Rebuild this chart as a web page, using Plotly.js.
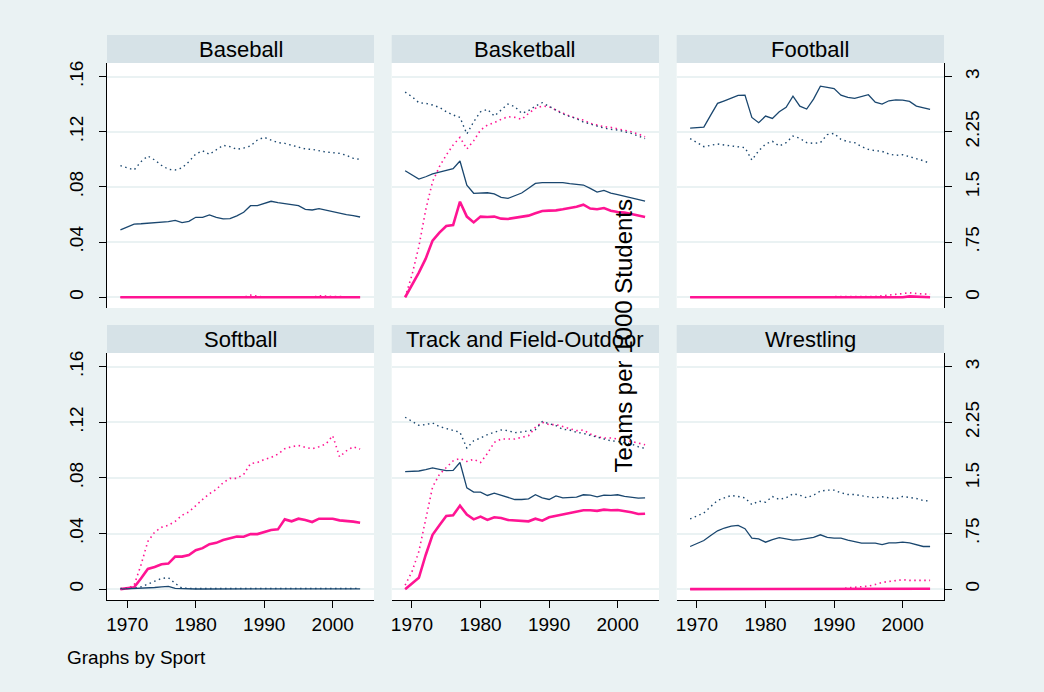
<!DOCTYPE html>
<html>
<head>
<meta charset="utf-8">
<script src="https://cdn.plot.ly/plotly-3.0.1.min.js"></script>
<style>html,body{margin:0;padding:0;background:#eaf2f3;}#chart{width:1044px;height:692px;}</style>
</head>
<body>
<div id="chart"></div>
<script>
// ---- DATA ----
const years = [1969,1970,1971,1972,1973,1974,1975,1976,1977,1978,1979,1980,1981,1982,1983,1984,1985,1986,1987,1988,1989,1990,1991,1992,1993,1994,1995,1996,1997,1998,1999,2000,2001,2002,2003,2004];
const sports = ["Baseball","Basketball","Football","Softball","Track and Field-Outdoor","Wrestling"];

// Men's teams per 1000 students (left axis, navy solid)
const baseballMenTeams = [.0488,.0510,.0531,.0533,.0536,.0541,.0543,.0548,.0558,.0541,.0550,.0580,.0580,.0597,.0580,.0568,.0570,.0590,.0616,.0664,.0664,.0679,.0696,.0686,.0679,.0671,.0664,.0638,.0633,.0642,.0630,.0618,.0609,.0599,.0592,.0582];
const basketballMenTeams = [.0918,.0888,.0857,.0874,.0894,.0908,.0920,.0932,.0988,.0812,.0754,.0758,.0758,.0749,.0725,.0717,.0734,.0756,.0790,.0826,.0831,.0831,.0831,.0831,.0824,.0821,.0814,.0790,.0763,.0775,.0756,.0744,.0732,.0722,.0710,.0698];
const footballMenTeams = [.1227,.1232,.1234,.1321,.1406,.1425,.1444,.1464,.1466,.1304,.1266,.1314,.1297,.1345,.1377,.1459,.1386,.1365,.1437,.1531,.1522,.1514,.1466,.1449,.1442,.1454,.1469,.1415,.1401,.1425,.1432,.1430,.1420,.1386,.1374,.1362];
const softballMenTeams = [0,.0002,.0002,.0003,.0005,.0012,.0017,.0020,.0005,.0002,.0001,.0001,.0001,.0001,.0001,.0002,.0002,.0002,.0002,.0002,.0002,.0002,.0002,.0001,.0002,.0002,.0002,.0002,.0002,.0001,.0002,.0002,.0002,.0002,.0002,.0002];
const trackMenTeams = [.0845,.0845,.0850,.0860,.0872,.0862,.0853,.0855,.0911,.0729,.0698,.0698,.0674,.0691,.0676,.0662,.0645,.0645,.0650,.0679,.0657,.0645,.0671,.0657,.0657,.0662,.0679,.0676,.0664,.0676,.0674,.0679,.0667,.0659,.0655,.0657];
const wrestlingMenTeams = [.0307,.0326,.0350,.0386,.0420,.0440,.0454,.0459,.0435,.0367,.0362,.0338,.0357,.0370,.0362,.0353,.0357,.0365,.0372,.0391,.0372,.0367,.0367,.0353,.0343,.0331,.0331,.0331,.0321,.0333,.0333,.0338,.0333,.0319,.0307,.0307];

// Men's participants (right axis, navy dotted)
const baseballMenPart = [1.790,1.762,1.731,1.844,1.921,1.867,1.794,1.740,1.731,1.758,1.844,1.948,1.993,1.943,2.002,2.066,2.048,2.011,2.029,2.057,2.138,2.175,2.138,2.102,2.093,2.070,2.039,2.016,2.011,1.989,1.975,1.966,1.957,1.930,1.889,1.875];
const basketballMenPart = [2.790,2.727,2.646,2.637,2.614,2.582,2.523,2.478,2.446,2.220,2.387,2.523,2.555,2.464,2.546,2.627,2.591,2.500,2.537,2.600,2.646,2.600,2.546,2.492,2.464,2.428,2.383,2.356,2.319,2.301,2.283,2.274,2.251,2.229,2.193,2.156];
const footballMenPart = [2.156,2.102,2.048,2.066,2.084,2.070,2.057,2.043,2.034,1.866,1.993,2.084,2.120,2.057,2.102,2.193,2.161,2.102,2.093,2.102,2.211,2.229,2.147,2.116,2.102,2.048,2.011,1.993,1.984,1.948,1.930,1.939,1.912,1.889,1.857,1.820];
const softballMenPart = [.009,.010,.012,.030,.070,.109,.145,.154,.077,.014,.008,.008,.008,.008,.008,.009,.010,.010,.010,.010,.010,.010,.010,.010,.010,.010,.010,.010,.010,.010,.010,.010,.010,.010,.010,.010];
const trackMenPart = [2.319,2.265,2.211,2.220,2.242,2.193,2.170,2.138,2.116,1.903,2.002,2.039,2.084,2.116,2.147,2.138,2.111,2.120,2.138,2.152,2.260,2.229,2.206,2.156,2.147,2.116,2.102,2.075,2.048,2.025,2.002,1.993,1.975,1.957,1.921,1.898];
const wrestlingMenPart = [.947,.983,1.028,1.114,1.196,1.232,1.264,1.250,1.232,1.142,1.187,1.173,1.250,1.210,1.232,1.287,1.268,1.232,1.268,1.323,1.336,1.336,1.300,1.277,1.277,1.259,1.241,1.232,1.246,1.232,1.219,1.250,1.241,1.223,1.196,1.187];

// Women's teams per 1000 students (left axis, pink solid)
const baseballWomenTeams = [0,0,0,0,0,0,0,0,0,0,0,0,0,0,0,0,0,0,0,0,0,0,0,0,0,0,0,0,0,0,0,0,0,0,0,0];
const basketballWomenTeams = [0,.0087,.0179,.0280,.0411,.0469,.0517,.0524,.0693,.0585,.0543,.0585,.0582,.0585,.0570,.0568,.0575,.0582,.0592,.0609,.0626,.0628,.0630,.0638,.0647,.0657,.0671,.0643,.0638,.0647,.0628,.0618,.0614,.0604,.0594,.0582];
const footballWomenTeams = [0,0,0,0,0,0,0,0,0,0,0,0,0,0,0,0,0,0,0,0,0,0,0,0,0,0,0,0,0,0,0,0,.0006,.0003,0,0];
const softballWomenTeams = [0,.0005,.0014,.0077,.0145,.0159,.0179,.0184,.0234,.0234,.0246,.0280,.0295,.0324,.0333,.0353,.0367,.0379,.0377,.0396,.0396,.0411,.0425,.0430,.0502,.0488,.0507,.0498,.0483,.0507,.0505,.0507,.0495,.0493,.0486,.0478];
const trackWomenTeams = [0,.0041,.0082,.0246,.0391,.0459,.0527,.0531,.0601,.0536,.0502,.0522,.0498,.0517,.0512,.0498,.0493,.0493,.0488,.0507,.0493,.0517,.0527,.0536,.0543,.0556,.0568,.0568,.0563,.0572,.0568,.0570,.0563,.0553,.0541,.0543];
const wrestlingWomenTeams = [0,0,0,0,0,0,0,0,0,0,0,0,0,0,0,0,0,0,0,0,0,0,0,0,0,0,0,.0003,.0003,.0003,.0003,.0003,.0003,.0003,.0003,.0003];

// Women's participants (right axis, pink dotted)
const baseballWomenPart = [0,0,0,0,0,0,0,0,0,0,0,0,0,0,0,0,0,0,0,.03,.01,0,0,0,0,0,0,0,0,.02,.01,.01,.01,.01,0,0];
const basketballWomenPart = [0,.303,.689,1.187,1.572,1.776,1.934,2.070,2.174,2.016,2.129,2.274,2.342,2.374,2.419,2.455,2.446,2.419,2.500,2.569,2.600,2.591,2.546,2.500,2.464,2.433,2.410,2.365,2.338,2.319,2.310,2.292,2.274,2.251,2.220,2.183];
const footballWomenPart = [0,0,0,0,0,0,0,0,0,0,0,0,0,0,0,0,0,0,0,.01,.01,0,0,0,0,0,.01,.01,.02,.03,.04,.05,.06,.05,.04,.04];
const softballWomenPart = [0,.009,.054,.326,.643,.770,.834,.861,.915,.997,1.042,1.133,1.210,1.287,1.345,1.436,1.495,1.495,1.549,1.694,1.708,1.749,1.776,1.821,1.894,1.921,1.939,1.912,1.894,1.921,1.957,2.070,1.785,1.866,1.921,1.889];
const trackWomenPart = [.054,.236,.507,.960,1.377,1.549,1.640,1.731,1.762,1.722,1.753,1.708,1.830,1.980,2.025,2.025,2.025,2.048,2.070,2.183,2.251,2.220,2.220,2.193,2.161,2.138,2.147,2.093,2.057,2.039,2.039,2.020,2.011,1.993,1.975,1.948];
const wrestlingWomenPart = [0,0,0,0,0,0,0,0,0,0,0,0,0,0,0,0,0,0,0,0,0,0,0,.018,.023,.032,.041,.063,.091,.104,.118,.127,.118,.118,.118,.118];

const leftTicks = [0,.04,.08,.12,.16];
const leftTickText = ["0",".04",".08",".12",".16"];
const rightTicks = [0,.75,1.5,2.25,3];
const rightTickText = ["0",".75","1.5","2.25","3"];
const xTicks = [1970,1980,1990,2000];

const menTeams = [baseballMenTeams,basketballMenTeams,footballMenTeams,softballMenTeams,trackMenTeams,wrestlingMenTeams];
const menPart = [baseballMenPart,basketballMenPart,footballMenPart,softballMenPart,trackMenPart,wrestlingMenPart];
const womenTeams = [baseballWomenTeams,basketballWomenTeams,footballWomenTeams,softballWomenTeams,trackWomenTeams,wrestlingWomenTeams];
const womenPart = [baseballWomenPart,basketballWomenPart,footballWomenPart,softballWomenPart,trackWomenPart,wrestlingWomenPart];

// ---- LAYOUT ----
const W = 1044, H = 692;
const NAVY = "#1a476f", PINK = "#ff1493";
const FONT = "Liberation Sans, Arial, sans-serif";
const colPx = [[107,374],[391.7,659],[676.7,944]];
const rowPlotPx = [[63,308],[353,600]];
const rowHeadPx = [[35,63],[325,353]];
const yRange = [-0.0078, 0.1699];
const ratio = 18.75;
const xRange = [1967.04, 2006.03];
const DOT = "1.5px,3.5px";

const layout = {
  width: W, height: H,
  margin: {l:0,r:0,t:0,b:0},
  paper_bgcolor: "#eaf2f3",
  plot_bgcolor: "#ffffff",
  showlegend: false,
  font: {family: FONT, color: "#000", size: 19},
  shapes: [], annotations: []
};
const traces = [];

for (let i = 0; i < 6; i++) {
  const r = Math.floor(i/3), c = i % 3;
  const n = i + 1;
  const xName = "xaxis" + (n === 1 ? "" : n);
  const yName = "yaxis" + (n === 1 ? "" : n);
  const y2n = n + 6;
  const xRef = "x" + (n === 1 ? "" : n);
  const yRef = "y" + (n === 1 ? "" : n);
  const y2Ref = "y" + y2n;
  const xd = [colPx[c][0]/W, colPx[c][1]/W];
  const yd = [1 - rowPlotPx[r][1]/H, 1 - rowPlotPx[r][0]/H];

  layout[xName] = {
    domain: xd, anchor: yRef, range: xRange,
    tickvals: xTicks, ticktext: xTicks.map(String),
    showgrid: false, zeroline: false,
    showline: r === 1, linecolor: "#000", linewidth: 1,
    ticks: r === 1 ? "outside" : "", ticklen: 7, tickcolor: "#000",
    showticklabels: r === 1,
    tickfont: {size: 19, family: FONT}
  };
  layout[yName] = {
    domain: yd, anchor: xRef, range: yRange,
    tickvals: leftTicks, ticktext: leftTickText,
    showgrid: true, gridcolor: "#eaf2f3", gridwidth: 2,
    zeroline: false,
    showline: c === 0, linecolor: "#000", linewidth: 1,
    ticks: c === 0 ? "outside" : "", ticklen: 7, tickcolor: "#000",
    showticklabels: c === 0, tickangle: -90, ticklabelstandoff: 8,
    tickfont: {size: 19, family: FONT}
  };
  layout["yaxis" + y2n] = {
    overlaying: yRef, anchor: xRef, side: "right",
    range: [yRange[0]*ratio, yRange[1]*ratio],
    tickvals: rightTicks, ticktext: rightTickText,
    showgrid: false, zeroline: false,
    showline: c === 2, linecolor: "#000", linewidth: 1,
    ticks: c === 2 ? "outside" : "", ticklen: 7, tickcolor: "#000",
    showticklabels: c === 2, tickangle: -90, ticklabelstandoff: 4,
    tickfont: {size: 19, family: FONT}
  };

  // header strip
  layout.shapes.push({
    type: "rect", xref: "paper", yref: "paper",
    x0: xd[0], x1: xd[1], y0: 1 - rowHeadPx[r][1]/H, y1: 1 - rowHeadPx[r][0]/H,
    fillcolor: "#d6e2e7", line: {width: 0}, layer: "below"
  });
  layout.annotations.push({
    xref: "paper", yref: "paper",
    x: (xd[0]+xd[1])/2, y: 1 - (rowHeadPx[r][0]+rowHeadPx[r][1])/2/H,
    text: sports[i], showarrow: false, xanchor: "center", yanchor: "middle",
    font: {size: 22, family: FONT, color: "#000"}
  });

  traces.push({x: years, y: womenTeams[i], xaxis: xRef, yaxis: yRef, type: "scatter", mode: "lines",
    line: {color: PINK, width: 2.6}, hoverinfo: "skip"});
  traces.push({x: years, y: womenPart[i], xaxis: xRef, yaxis: y2Ref, type: "scatter", mode: "lines",
    line: {color: PINK, width: 1.6, dash: DOT}, hoverinfo: "skip"});
  traces.push({x: years, y: menTeams[i], xaxis: xRef, yaxis: yRef, type: "scatter", mode: "lines",
    line: {color: NAVY, width: 1.3}, hoverinfo: "skip"});
  traces.push({x: years, y: menPart[i], xaxis: xRef, yaxis: y2Ref, type: "scatter", mode: "lines",
    line: {color: NAVY, width: 1.4, dash: DOT}, hoverinfo: "skip"});
}

layout.annotations.push({
  xref: "paper", yref: "paper", x: 623/W, y: 1 - 335.5/H,
  text: "Teams per 1000 Students", textangle: -90, showarrow: false,
  xanchor: "center", yanchor: "middle",
  font: {size: 24, family: FONT, color: "#000"}
});
layout.annotations.push({
  xref: "paper", yref: "paper", x: 65/W, y: 1 - 657/H,
  text: "Graphs by Sport", showarrow: false,
  xanchor: "left", yanchor: "middle",
  font: {size: 19, family: FONT, color: "#000"}
});

Plotly.newPlot("chart", traces, layout, {staticPlot: true, displayModeBar: false});
</script>
</body>
</html>
